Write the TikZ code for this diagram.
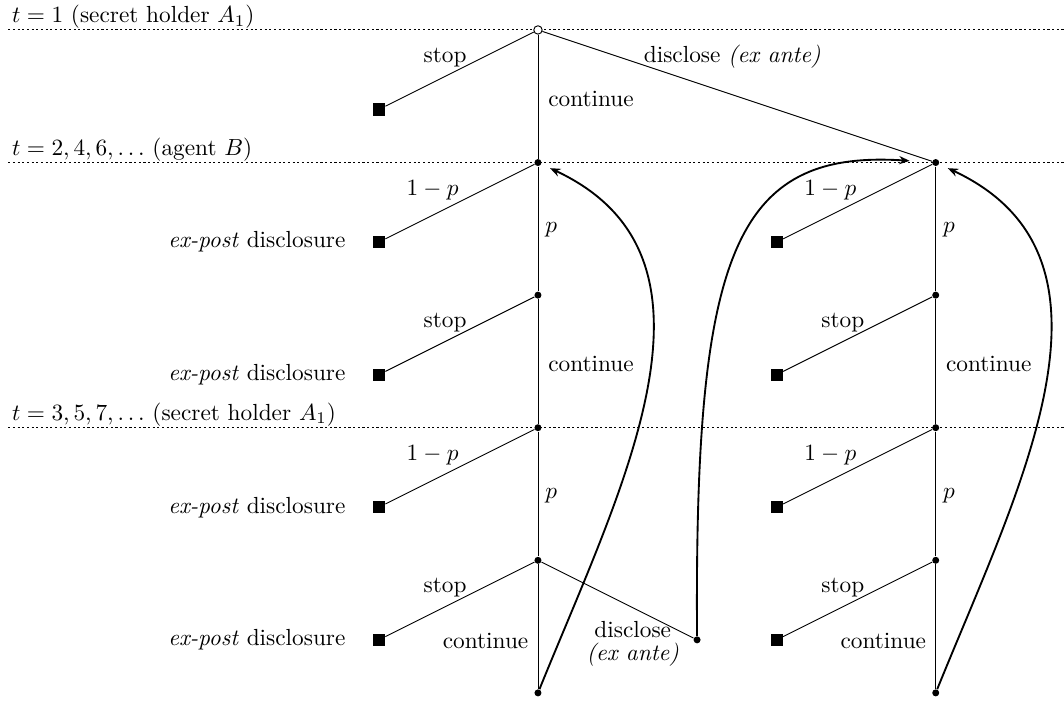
\documentclass[tikz,border=0pt]{standalone}
\usepackage{amsmath,amssymb}
\usepackage{tikz}
\usetikzlibrary{positioning, arrows.meta}

\begin{document}
\begin{tikzpicture}[
    period/.style={dash pattern=on 0.9pt off 1.1pt},
    start/.style={circle, draw, fill=white, inner sep=0pt, minimum size=3.6pt},
    dec/.style={circle, fill, inner sep=0pt, minimum size=3pt},
    term/.style={rectangle, fill, inner sep=0pt, minimum size=5.2pt},
    lbl/.style={inner sep=0pt},
    jump/.style={-{Stealth[length=4.5pt, width=3.5pt]}, thick}
]
\useasboundingbox (-8.115,-10.135) rectangle (7.935,0.452);

% time periods
\draw[period] (-7.99,0) -- (7.935,0);
\draw[period] (-7.99,-2) -- (7.935,-2);
\draw[period] (-7.99,-6) -- (7.935,-6);
\node[lbl, anchor=base west] (t1) at (-7.94,0.11) {$t=1$ (secret holder $A_1$)};
\node[lbl, anchor=base west] (t2) at (-7.94,0.11-2) {$t=2,4,6,\ldots$ (agent $B$)};
\node[lbl, anchor=base west] (t3) at (-7.94,0.11-6) {$t=3,5,7,\ldots$ (secret holder $A_1$)};

% first move
\node[start] (root) at (0,0) {};
\node[term] (q0) at (-2.4,-1.2) {};

% left column
\node[dec] (L1) at (0,-2) {};
\node[dec] (L2) at (0,-4) {};
\node[dec] (L3) at (0,-6) {};
\node[dec] (L4) at (0,-8) {};
\node[dec] (L5) at (0,-10) {};
\node[term] (qL1) at (-2.4,-3.2) {};
\node[term] (qL2) at (-2.4,-5.2) {};
\node[term] (qL3) at (-2.4,-7.2) {};
\node[term] (qL4) at (-2.4,-9.2) {};
\node[dec] (dx) at (2.4,-9.2) {};

% right column
\node[dec] (R1) at (6,-2) {};
\node[dec] (R2) at (6,-4) {};
\node[dec] (R3) at (6,-6) {};
\node[dec] (R4) at (6,-8) {};
\node[dec] (R5) at (6,-10) {};
\node[term] (qR1) at (3.6,-3.2) {};
\node[term] (qR2) at (3.6,-5.2) {};
\node[term] (qR3) at (3.6,-7.2) {};
\node[term] (qR4) at (3.6,-9.2) {};

% branches
\draw (root) -- (q0);
\draw (root) -- (L1);
\draw (root) -- (R1);
\draw (L1) -- (L2) -- (L3) -- (L4) -- (L5);
\draw (R1) -- (R2) -- (R3) -- (R4) -- (R5);
\draw (L1) -- (qL1);
\draw (L2) -- (qL2);
\draw (L3) -- (qL3);
\draw (L4) -- (qL4);
\draw (L4) -- (dx);
\draw (R1) -- (qR1);
\draw (R2) -- (qR2);
\draw (R3) -- (qR3);
\draw (R4) -- (qR4);

% labels, first move
\node (s0) at (-1.40,-0.41) {stop};
\node (c0) at (0.80,-1.04) {continue};
\node (d0) at (2.93,-0.40) {disclose \textit{(ex ante)}};

% labels, left column
\node (aL1) at (-1.59,-2.42) {$1-p$};
\node (pL1) at (0.20,-3.02) {$p$};
\node (sL2) at (-1.40,-4.41) {stop};
\node (cL2) at (0.80,-5.04) {continue};
\node (aL3) at (-1.59,-6.42) {$1-p$};
\node (pL3) at (0.20,-7.02) {$p$};
\node (sL4) at (-1.40,-8.41) {stop};
\node (cL4) at (-0.79,-9.22) {continue};
\node[align=center] (dL4) at (1.43,-9.26) {disclose\\[-2pt]\textit{(ex ante)}};
\node[left=8pt of qL1] (eL1) {\textit{ex-post} disclosure};
\node[left=8pt of qL2] (eL2) {\textit{ex-post} disclosure};
\node[left=8pt of qL3] (eL3) {\textit{ex-post} disclosure};
\node[left=8pt of qL4] (eL4) {\textit{ex-post} disclosure};

% labels, right column
\node (aR1) at (4.41,-2.42) {$1-p$};
\node (pR1) at (6.20,-3.02) {$p$};
\node (sR2) at (4.60,-4.41) {stop};
\node (cR2) at (6.80,-5.04) {continue};
\node (aR3) at (4.41,-6.42) {$1-p$};
\node (pR3) at (6.20,-7.02) {$p$};
\node (sR4) at (4.60,-8.41) {stop};
\node (cR4) at (5.21,-9.22) {continue};

% loops back
\draw[jump, shorten >=4pt] (L5) .. controls (1.27,-6.87) and (3.06,-3.43) .. (L1);
\draw[jump, shorten >=4pt] (R5) .. controls (7.27,-6.87) and (9.06,-3.43) .. (R1);
\draw[jump, shorten >=9.5pt] (dx) .. controls (2.36,-3.4) and (2.95,-1.8) .. (R1);

\end{tikzpicture}
\end{document}
